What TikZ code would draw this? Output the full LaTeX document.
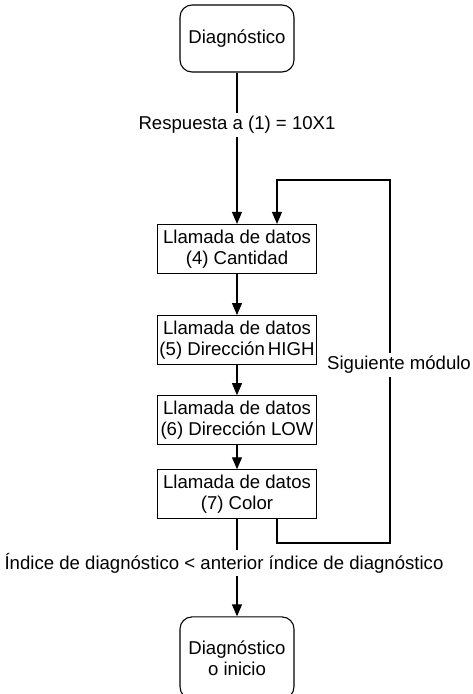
\documentclass[tikz,border=0pt]{standalone}
\usepackage{fontspec}
\setmainfont{Liberation Sans}
\usepackage{tikz}
\usetikzlibrary{arrows.meta,positioning}

\begin{document}
\begin{tikzpicture}[x=1pt,y=-1pt,
node distance=30pt,
every node/.style={font=\fontsize{18.6}{21}\selectfont},
term/.style={draw,rounded corners=12pt,align=center,minimum width=114pt,line width=1.1pt},
block/.style={draw,align=center,minimum width=159pt,minimum height=49pt,inner sep=2pt,line width=1.1pt},
lbl/.style={fill=white,inner sep=3pt},
arrow/.style={-{Triangle[length=12pt,width=10pt]},line width=1.1pt}]
\useasboundingbox (0,0) rectangle (473,694);
\node[term,minimum height=67pt] (start) at (237,38.5) {Diagnóstico};
\node[block] (d4) at (237,249) {Llamada de datos\\(4) Cantidad};
\node[block,below=41pt of d4] (d5) {Llamada de datos\\(5) Dirección\,HIGH};
\node[block,below=30pt of d5] (d6) {Llamada de datos\\(6) Dirección LOW};
\node[block,below=24pt of d6] (d7) {Llamada de datos\\(7) Color};
\node[term,minimum height=82pt,below=97pt of d7] (fin) {Diagnóstico\\o inicio};
\coordinate (loopbot) at (390,543);
\coordinate (looptop) at (390,180);
\draw[arrow] (start)--(d4); \draw[arrow] (d4)--(d5); \draw[arrow] (d5)--(d6);
\draw[arrow] (d6)--(d7); \draw[arrow] (d7)--(fin);
\draw[arrow] ([xshift=40pt]d7.south) |- (loopbot) -- (looptop) -| ([xshift=40pt]d4.north);
\node[lbl] (resp) at (237,125) {Respuesta a (1) = 10X1};
\node[lbl] (sig) at (399,365) {Siguiente módulo};
\node[lbl] (indice) at (224,563) {Índice de diagnóstico < anterior índice de diagnóstico};
\end{tikzpicture}
\end{document}
